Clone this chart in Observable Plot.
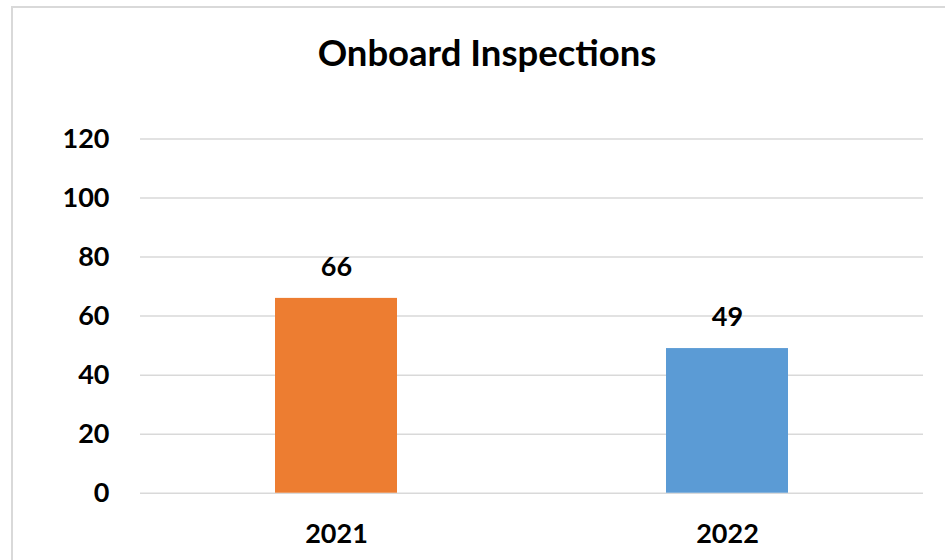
<!DOCTYPE html>
<html>
<head>
<meta charset="utf-8">
<script src="https://cdn.jsdelivr.net/npm/d3@7"></script>
<script src="https://cdn.jsdelivr.net/npm/@observablehq/plot@0.6"></script>
<style>
  html, body { margin: 0; padding: 0; background: #fff; overflow: hidden; width: 945px; height: 560px; }
  #wrap { position: relative; width: 945px; height: 560px; overflow: hidden; }
  #border { position: absolute; left: 11px; top: 6px; width: 1000px; height: 1000px; border: 2px solid #d9d9d9; box-sizing: border-box; }
  #chart { position: absolute; left: 0; top: 0; }
</style>
</head>
<body>
<div id="wrap"><div id="border"></div><div id="chart"></div></div>
<script>
const title = "Onboard Inspections";
const years = ["2021", "2022"];
const values = [66, 49];
const colors = ["#ED7D31", "#5B9BD5"];
const yTicks = [0, 20, 40, 60, 80, 100, 120];

const data = years.map((year, i) => ({year, value: values[i], color: colors[i]}));

const chart = Plot.plot({
  width: 945,
  height: 560,
  marginLeft: 140,
  marginRight: 22,
  marginTop: 138.5,
  marginBottom: 67.3,
  style: {fontFamily: "Lato, sans-serif", fontWeight: "bold", fontSize: "27px", color: "#000", background: "transparent"},
  x: {domain: years, paddingInner: 0.687, paddingOuter: 0.3435, label: null, tickSize: 0, tickPadding: 31},
  y: {domain: [0, 120], ticks: yTicks, label: null, tickSize: 0, tickPadding: 31},
  marks: [
    Plot.gridY(yTicks, {stroke: "#d9d9d9", strokeOpacity: 1, strokeWidth: 1.5}),
    Plot.barY(data, {x: "year", y: "value", fill: "color"}),
    Plot.text(data, {x: "year", y: "value", text: d => String(d.value), dy: -31, fill: "#000", fontSize: 27, fontWeight: "bold"}),
    Plot.text([title], {frameAnchor: "top", dy: -99, dx: -45, fontSize: 36.5, fontWeight: "bold", fill: "#000"}),
    Plot.axisX({tickSize: 0, tickPadding: 31, fontSize: 27, fontWeight: "bold", fill: "#000"}),
    Plot.axisY({ticks: yTicks, tickSize: 0, tickPadding: 31, fontSize: 27, fontWeight: "bold", fill: "#000"})
  ]
});
document.getElementById("chart").appendChild(chart);
</script>
</body>
</html>
